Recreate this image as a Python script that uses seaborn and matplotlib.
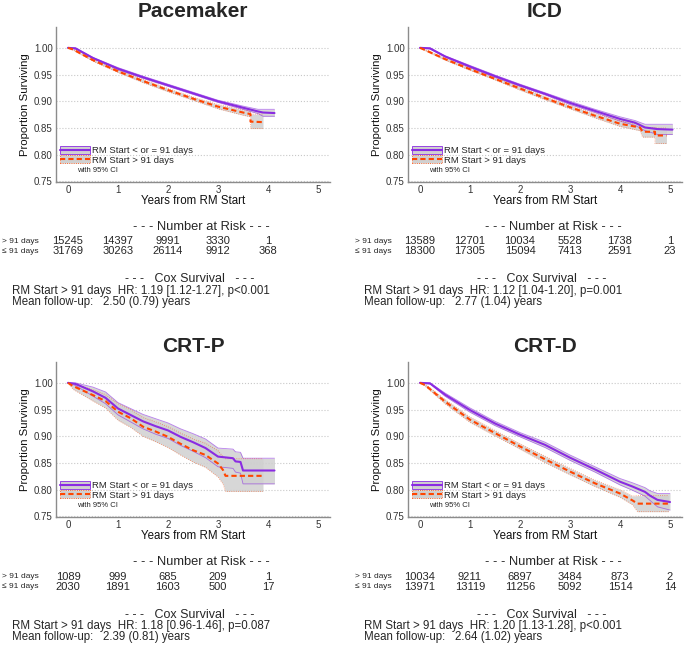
import pandas as pd
import matplotlib
matplotlib.use("Agg")
import matplotlib.pyplot as plt
import matplotlib.transforms as mtransforms
from matplotlib.patches import Patch
from matplotlib.lines import Line2D
import seaborn as sns

# ---- survival curves (years, proportion surviving, 95% CI) ----
# Pacemaker
PM_EARLY_T = [0, 0.15, 0.5, 1.0, 1.5, 2.0, 2.5, 3.0, 3.5, 3.8, 3.9, 4.13]
PM_EARLY_S = [1.000, 0.999, 0.981, 0.961, 0.945, 0.930, 0.915, 0.900, 0.888, 0.881, 0.879, 0.878]
PM_EARLY_HI = [1.000, 1.000, 0.982, 0.963, 0.947, 0.932, 0.917, 0.902, 0.891, 0.885, 0.885, 0.885]
PM_EARLY_LO = [1.000, 0.998, 0.980, 0.959, 0.943, 0.928, 0.913, 0.898, 0.885, 0.877, 0.872, 0.872]
PM_LATE_T = [0, 0.1, 0.5, 1.0, 1.5, 2.0, 2.5, 3.0, 3.5, 3.65, 3.65, 3.9]
PM_LATE_S = [1.000, 0.997, 0.977, 0.956, 0.938, 0.921, 0.905, 0.890, 0.879, 0.876, 0.862, 0.861]
PM_LATE_HI = [1.000, 0.998, 0.979, 0.958, 0.941, 0.924, 0.908, 0.894, 0.884, 0.881, 0.876, 0.876]
PM_LATE_LO = [1.000, 0.996, 0.975, 0.954, 0.935, 0.918, 0.902, 0.886, 0.874, 0.871, 0.849, 0.849]

# ICD
ICD_EARLY_T = [0, 0.2, 0.5, 1.0, 1.5, 2.0, 2.5, 3.0, 3.5, 4.0, 4.3, 4.5, 4.75, 5.05]
ICD_EARLY_S = [1.000, 0.999, 0.984, 0.965, 0.947, 0.930, 0.914, 0.897, 0.882, 0.867, 0.860, 0.851, 0.848, 0.847]
ICD_EARLY_HI = [1.000, 1.000, 0.985, 0.967, 0.949, 0.932, 0.916, 0.900, 0.885, 0.871, 0.864, 0.857, 0.857, 0.857]
ICD_EARLY_LO = [1.000, 0.998, 0.983, 0.963, 0.945, 0.928, 0.912, 0.894, 0.879, 0.863, 0.855, 0.845, 0.838, 0.838]
ICD_LATE_T = [0, 0.1, 0.5, 1.0, 1.5, 2.0, 2.5, 3.0, 3.5, 4.0, 4.4, 4.45, 4.7, 4.7, 4.93]
ICD_LATE_S = [1.000, 0.996, 0.979, 0.960, 0.942, 0.924, 0.906, 0.889, 0.873, 0.858, 0.851, 0.843, 0.843, 0.836, 0.836]
ICD_LATE_HI = [1.000, 0.997, 0.981, 0.962, 0.944, 0.927, 0.909, 0.892, 0.877, 0.863, 0.857, 0.851, 0.851, 0.850, 0.850]
ICD_LATE_LO = [1.000, 0.995, 0.977, 0.958, 0.940, 0.921, 0.903, 0.886, 0.869, 0.853, 0.845, 0.833, 0.833, 0.821, 0.821]

# CRT-P
CRTP_EARLY_T = [0, 0.15, 0.5, 0.75, 1.0, 1.25, 1.5, 1.75, 2.0, 2.25, 2.5, 2.75, 3.0, 3.3, 3.35, 3.45, 3.5, 4.13]
CRTP_EARLY_S = [1.000, 0.998, 0.984, 0.972, 0.952, 0.940, 0.928, 0.919, 0.911, 0.899, 0.889, 0.878, 0.862, 0.859, 0.853, 0.852, 0.836, 0.836]
CRTP_EARLY_HI = [1.000, 1.000, 0.992, 0.983, 0.963, 0.952, 0.941, 0.933, 0.925, 0.914, 0.905, 0.895, 0.878, 0.876, 0.871, 0.870, 0.859, 0.859]
CRTP_EARLY_LO = [1.000, 0.995, 0.975, 0.961, 0.940, 0.927, 0.914, 0.904, 0.896, 0.883, 0.872, 0.860, 0.843, 0.840, 0.833, 0.831, 0.811, 0.811]
CRTP_LATE_T = [0, 0.1, 0.5, 0.75, 1.0, 1.25, 1.5, 1.75, 2.0, 2.25, 2.5, 2.75, 3.0, 3.1, 3.15, 3.9]
CRTP_LATE_S = [1.000, 0.994, 0.977, 0.966, 0.946, 0.934, 0.918, 0.909, 0.899, 0.886, 0.874, 0.865, 0.849, 0.837, 0.826, 0.826]
CRTP_LATE_HI = [1.000, 0.999, 0.987, 0.978, 0.961, 0.950, 0.935, 0.927, 0.918, 0.906, 0.895, 0.887, 0.873, 0.862, 0.858, 0.858]
CRTP_LATE_LO = [1.000, 0.988, 0.966, 0.953, 0.930, 0.917, 0.900, 0.890, 0.879, 0.865, 0.852, 0.842, 0.824, 0.811, 0.797, 0.797]

# CRT-D
CRTD_EARLY_T = [0, 0.2, 0.5, 1.0, 1.5, 2.0, 2.5, 3.0, 3.5, 4.0, 4.25, 4.5, 4.6, 4.75, 5.0]
CRTD_EARLY_S = [1.000, 0.999, 0.978, 0.949, 0.924, 0.903, 0.884, 0.860, 0.838, 0.815, 0.806, 0.796, 0.789, 0.781, 0.777]
CRTD_EARLY_HI = [1.000, 1.000, 0.981, 0.953, 0.928, 0.907, 0.889, 0.865, 0.843, 0.821, 0.813, 0.804, 0.798, 0.793, 0.793]
CRTD_EARLY_LO = [1.000, 0.998, 0.975, 0.945, 0.920, 0.899, 0.879, 0.855, 0.833, 0.809, 0.799, 0.788, 0.780, 0.768, 0.762]
CRTD_LATE_T = [0, 0.1, 0.5, 1.0, 1.5, 2.0, 2.5, 3.0, 3.5, 4.0, 4.25, 4.35, 4.97]
CRTD_LATE_S = [1.000, 0.996, 0.965, 0.931, 0.906, 0.881, 0.857, 0.834, 0.812, 0.793, 0.780, 0.774, 0.774]
CRTD_LATE_HI = [1.000, 0.998, 0.969, 0.936, 0.911, 0.886, 0.863, 0.840, 0.818, 0.800, 0.788, 0.789, 0.789]
CRTD_LATE_LO = [1.000, 0.994, 0.961, 0.926, 0.901, 0.876, 0.851, 0.828, 0.806, 0.786, 0.772, 0.759, 0.759]

# ---- number at risk (> 91 days, <= 91 days) at years 0,1,2,... ----
PM_RISK_LATE = [15245, 14397, 9991, 3330, 1]
PM_RISK_EARLY = [31769, 30263, 26114, 9912, 368]
ICD_RISK_LATE = [13589, 12701, 10034, 5528, 1738, 1]
ICD_RISK_EARLY = [18300, 17305, 15094, 7413, 2591, 23]
CRTP_RISK_LATE = [1089, 999, 685, 209, 1]
CRTP_RISK_EARLY = [2030, 1891, 1603, 500, 17]
CRTD_RISK_LATE = [10034, 9211, 6897, 3484, 873, 2]
CRTD_RISK_EARLY = [13971, 13119, 11256, 5092, 1514, 14]

# ---- Cox model summaries ----
DEVICES = ["Pacemaker", "ICD", "CRT-P", "CRT-D"]
COX_HR = ["HR: 1.19 [1.12-1.27], p<0.001", "HR: 1.12 [1.04-1.20], p=0.001",
          "HR: 1.18 [0.96-1.46], p=0.087", "HR: 1.20 [1.13-1.28], p<0.001"]
FOLLOW_UP = ["2.50 (0.79)", "2.77 (1.04)", "2.39 (0.81)", "2.64 (1.02)"]

LABEL_EARLY = "RM Start < or = 91 days"
LABEL_LATE = "RM Start > 91 days"

curves = {
    "Pacemaker": [(PM_EARLY_T, PM_EARLY_S, PM_EARLY_LO, PM_EARLY_HI),
                  (PM_LATE_T, PM_LATE_S, PM_LATE_LO, PM_LATE_HI)],
    "ICD": [(ICD_EARLY_T, ICD_EARLY_S, ICD_EARLY_LO, ICD_EARLY_HI),
            (ICD_LATE_T, ICD_LATE_S, ICD_LATE_LO, ICD_LATE_HI)],
    "CRT-P": [(CRTP_EARLY_T, CRTP_EARLY_S, CRTP_EARLY_LO, CRTP_EARLY_HI),
              (CRTP_LATE_T, CRTP_LATE_S, CRTP_LATE_LO, CRTP_LATE_HI)],
    "CRT-D": [(CRTD_EARLY_T, CRTD_EARLY_S, CRTD_EARLY_LO, CRTD_EARLY_HI),
              (CRTD_LATE_T, CRTD_LATE_S, CRTD_LATE_LO, CRTD_LATE_HI)],
}
risk = {
    "Pacemaker": (PM_RISK_LATE, PM_RISK_EARLY),
    "ICD": (ICD_RISK_LATE, ICD_RISK_EARLY),
    "CRT-P": (CRTP_RISK_LATE, CRTP_RISK_EARLY),
    "CRT-D": (CRTD_RISK_LATE, CRTD_RISK_EARLY),
}

PURPLE = "#8A2BE2"
ORANGE = "#FF4500"
CI_FILL = "#D0D0D0"
STYLES = [(PURPLE, "-", "-"), (ORANGE, (0, (2.5, 1.5)), ":")]

W, H = 685, 648

sns.set_theme(style="white")
plt.rcParams["font.family"] = ["Liberation Sans", "DejaVu Sans"]

fig = plt.figure(figsize=(W / 100, H / 100), dpi=100)


def fx(px):
    return px / W


def fy(py):
    return 1 - py / H


# panel origin in pixels: (axes left, vertical offset of the whole block)
layout = {"Pacemaker": (56, 0), "ICD": (408, 0), "CRT-P": (56, 335), "CRT-D": (408, 335)}

for i, dev in enumerate(DEVICES):
    left, off = layout[dev]
    ax = fig.add_axes([fx(left), fy(182 + off), 274 / W, 155 / H])

    # CI bands first, then the curves on top
    for (t, s, lo, hi), (col, ls, edge_ls) in zip(curves[dev], STYLES):
        ax.fill_between(t, lo, hi, color=CI_FILL, alpha=0.85, lw=0, zorder=1)
        ax.plot(t, lo, color=col, lw=0.6, ls=edge_ls, alpha=0.6, zorder=2)
        ax.plot(t, hi, color=col, lw=0.6, ls=edge_ls, alpha=0.6, zorder=2)
    for (t, s, lo, hi), (col, ls, edge_ls) in zip(curves[dev], STYLES):
        df = pd.DataFrame({"years": t, "surv": s})
        sns.lineplot(data=df, x="years", y="surv", ax=ax, color=col, lw=1.5,
                     linestyle=ls, estimator=None, sort=False, zorder=3)

    ax.set_xlim(-0.24, 5.24)
    ax.set_ylim(0.749, 1.039)
    ax.set_xticks(range(6))
    ax.set_yticks([0.75, 0.80, 0.85, 0.90, 0.95, 1.00])
    ax.set_yticklabels([f"{v:.2f}" for v in [0.75, 0.80, 0.85, 0.90, 0.95, 1.00]])
    ax.yaxis.grid(True, linestyle=":", color="#C8C8C8", lw=0.8)
    ax.xaxis.grid(False)
    for sp in ["top", "right"]:
        ax.spines[sp].set_visible(False)
    for sp in ["left", "bottom"]:
        ax.spines[sp].set_color("#8C8C8C")
        ax.spines[sp].set_linewidth(1.0)
    ax.tick_params(axis="both", length=1.5, color="#8C8C8C", labelsize=7, pad=0.8,
                   labelcolor="#333333")
    ax.set_xlabel("Years from RM Start", fontsize=8.3, labelpad=0, color="#111111")
    ax.set_ylabel("Proportion Surviving", fontsize=8.2, labelpad=3, color="#111111")
    ax.set_title(dev, fontsize=15, fontweight="bold", pad=7)

    # legend: CI box with line through it
    handles = [(Patch(facecolor=CI_FILL, edgecolor=PURPLE, lw=0.6),
                Line2D([], [], color=PURPLE, lw=1.5)),
               (Patch(facecolor=CI_FILL, edgecolor=ORANGE, lw=0.6, ls=":"),
                Line2D([], [], color=ORANGE, lw=1.5, ls=(0, (2.5, 1.5))))]
    ax.legend(handles, [LABEL_EARLY, LABEL_LATE], loc="upper left",
              bbox_to_anchor=(0.0, 0.255), frameon=False, fontsize=6.8,
              handlelength=3.2, handleheight=0.9, handletextpad=0.2,
              labelspacing=0.0, borderpad=0.2, borderaxespad=0.2)
    ax.text(0.077, 0.075, "with 95% CI", transform=ax.transAxes, fontsize=5.5,
            va="center", ha="left")

    # number at risk table
    tr = mtransforms.blended_transform_factory(ax.transData, fig.transFigure)
    fig.text(fx(left + 145), fy(227 + off), "- - - Number at Risk - - -",
             fontsize=9.3, ha="center", va="center")
    late, early = risk[dev]
    lab_x = 2 if left < 300 else 355
    for row, (nums, lab) in enumerate([(late, "> 91 days"), (early, "\u2264 91 days")]):
        yy = fy(241.5 + off + row * 10)
        fig.text(fx(lab_x), yy, lab, fontsize=6, ha="left", va="center")
        for k, n in enumerate(nums):
            ax.text(k, yy, str(n), transform=tr, fontsize=8, ha="center", va="center")

    # Cox summary
    fig.text(fx(left + 134), fy(279.5 + off), "- - -   Cox Survival   - - -",
             fontsize=9, ha="center", va="center")
    fig.text(fx(left - 44), fy(291 + off), f"{LABEL_LATE}  {COX_HR[i]}",
             fontsize=8.3, ha="left", va="center")
    fig.text(fx(left - 44), fy(302 + off), f"Mean follow-up:   {FOLLOW_UP[i]} years",
             fontsize=8.3, ha="left", va="center")

fig.savefig("out.png", dpi=100)
